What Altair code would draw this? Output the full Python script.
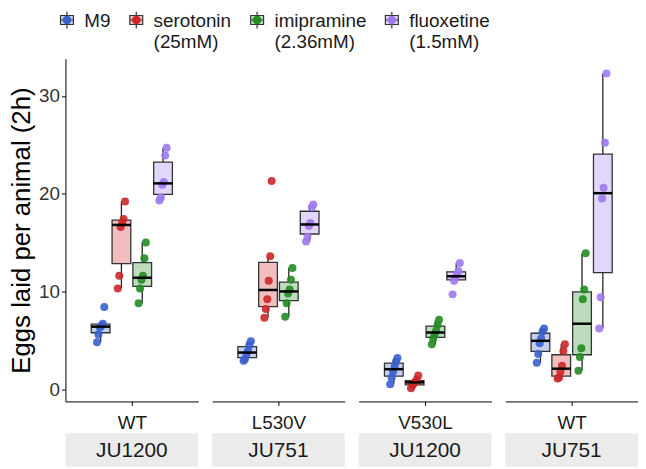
import altair as alt
import pandas as pd

# ---------------- data ----------------
drugs = ["M9", "serotonin (25mM)", "imipramine (2.36mM)", "fluoxetine (1.5mM)"]
colors = ["#3A5FCD", "#CD2626", "#228B22", "#9F79EE"]
box_fills = ["#C4CFF0", "#F0BEBE", "#BDDCBD", "#E2D7FA"]
genotypes = ["WT", "L530V", "V530L", "WT"]
strains = ["JU1200", "JU751", "JU1200", "JU751"]

# eggs laid per animal (2h), one list per panel (left to right)
m9 = [
    [8.4, 6.7, 6.5, 6.3, 5.6, 4.8],
    [4.9, 4.5, 3.9, 3.6, 3.1, 2.9],
    [3.2, 2.8, 2.3, 1.8, 1.2, 0.5],
    [6.2, 5.9, 5.2, 4.7, 3.6, 2.7],
]
serotonin = [
    [19.2, 17.4, 17.0, 16.6, 11.6, 10.3],
    [21.3, 13.6, 11.1, 9.2, 8.2, 7.3],
    [1.4, 0.9, 0.8, 0.6, 0.4, 0.1],
    [4.6, 3.9, 2.4, 1.8, 1.2, 1.1],
]
imipramine = [
    [15.0, 13.4, 11.6, 11.2, 10.3, 8.8],
    [12.4, 11.2, 10.2, 9.8, 8.8, 7.4],
    [7.1, 6.6, 6.0, 5.6, 5.2, 4.6],
    [13.9, 10.2, 9.2, 4.2, 3.3, 1.9],
]
fluoxetine = [
    [24.7, 23.9, 21.2, 20.9, 19.6, 19.3],
    [18.9, 18.6, 17.0, 16.7, 15.6, 15.1],
    [12.9, 12.1, 11.7, 11.4, 11.1, 9.7],
    [32.3, 25.2, 20.6, 19.5, 9.4, 6.2],
]

series = [m9, serotonin, imipramine, fluoxetine]
rows = []
for di, (drug, s) in enumerate(zip(drugs, series)):
    for p in range(4):
        for v in s[p]:
            rows.append({"panel": p, "drug": drug, "di": di, "value": v})
df = pd.DataFrame(rows)
strip_df = pd.DataFrame({"panel": list(range(4)), "strain": strains})

# ---------------- styling ----------------
W, H = 134, 346
STRIP_GAP, STRIP_H = 32, 34
FONT = "Liberation Sans"
x_scale = alt.Scale(domain=[-1.69, 4.69], nice=False, zero=False)
y_scale = alt.Scale(domain=[-1.25, 33.8], nice=False, zero=False)

# legend key: small box with whiskers, raised so that it lines up with the
# first line of the two-line labels (labels use an alphabetic baseline)
BOX_PATH = "M-1,-1.75H1V-0.35H-1Z M0,-2.35V-1.75 M0,-0.35V0.25 M-1,-1.05H1"
DOT_PATH = "M-0.68,-1.05A0.68,0.68,0,1,1,0.68,-1.05A0.68,0.68,0,1,1,-0.68,-1.05Z"

LABEL_EXPR = "[split(datum.label, ' ')[0], split(datum.label, ' ')[1] || ' ']"
common_leg = dict(
    title=None, orient="none", legendX=-8, legendY=-42, direction="horizontal",
    columns=4, symbolSize=169, symbolStrokeWidth=1.2,
    labelExpr=LABEL_EXPR, labelFontSize=19, labelFont=FONT,
    labelOffset=8, columnPadding=16, padding=0, labelBaseline="alphabetic",
    labelLimit=300,
)
box_legend = alt.Legend(symbolType=BOX_PATH, symbolStrokeColor="#333333",
                        labelColor="#1A1A1A", **common_leg)
dot_legend = alt.Legend(symbolType=DOT_PATH, symbolStrokeColor="transparent",
                        labelOpacity=0, symbolOpacity=1, values=drugs, **common_leg)


def panel(p):
    xaxis = alt.Axis(values=[1.5], labelExpr=f"'{genotypes[p]}'", title=None,
                     grid=False, domainColor="black", tickColor="black",
                     tickSize=4, labelFontSize=19, labelColor="#1A1A1A",
                     labelPadding=8, labelFont=FONT)
    if p == 0:
        yaxis = alt.Axis(values=[0, 10, 20, 30], title="Eggs laid per animal (2h)",
                         grid=False, domainColor="black", tickColor="black",
                         tickSize=4, labelFontSize=19, labelColor="#333333",
                         labelFont=FONT, titleFont=FONT, titleFontSize=26,
                         titleFontWeight="normal", titleColor="black",
                         titlePadding=4, labelPadding=2)
    else:
        yaxis = None

    base = alt.Chart(df).transform_filter(alt.datum.panel == p)
    stats = (
        base.transform_joinaggregate(q1="q1(value)", q3="q3(value)",
                                     med="median(value)", groupby=["drug"])
        .transform_calculate(lof="datum.q1 - 1.5*(datum.q3 - datum.q1)",
                             hif="datum.q3 + 1.5*(datum.q3 - datum.q1)")
        .transform_calculate(vlo="datum.value >= datum.lof ? datum.value : null",
                             vhi="datum.value <= datum.hif ? datum.value : null")
        .transform_aggregate(q1="min(q1)", q3="min(q3)", med="min(med)",
                             lo="min(vlo)", hi="max(vhi)", groupby=["drug", "di"])
        .transform_calculate(xl="datum.di - 0.45", xr="datum.di + 0.45")
    )

    whisk = stats.mark_rule(color="#222222", strokeWidth=1.3).encode(
        x=alt.X("di:Q", scale=x_scale, axis=xaxis),
        y=alt.Y("lo:Q", scale=y_scale, axis=yaxis),
        y2="hi:Q",
    )
    boxes = stats.mark_rect(stroke="#333333", strokeWidth=1.3).encode(
        x=alt.X("xl:Q", scale=x_scale, axis=xaxis),
        x2="xr:Q",
        y=alt.Y("q1:Q", scale=y_scale, axis=yaxis),
        y2="q3:Q",
        color=alt.Color("drug:N", scale=alt.Scale(domain=drugs, range=box_fills),
                        legend=box_legend),
    )
    pts = (
        base.transform_window(idx="row_number()", groupby=["drug"])
        .transform_calculate(xj="datum.di + ((datum.idx*5)%6 - 2.5)*0.07")
        .mark_circle(size=65, opacity=0.9)
        .encode(
            x=alt.X("xj:Q", scale=x_scale, axis=xaxis),
            y=alt.Y("value:Q", scale=y_scale, axis=yaxis),
            fill=alt.Fill("drug:N",
                          scale=alt.Scale(domain=drugs + ["-"], range=colors + ["#999999"]),
                          legend=dot_legend),
        )
    )
    med = stats.mark_rule(color="black", strokeWidth=2.5).encode(
        x=alt.X("xl:Q", scale=x_scale, axis=xaxis),
        x2="xr:Q",
        y=alt.Y("med:Q", scale=y_scale, axis=yaxis),
    )

    # facet strip below the panel (grey box with the strain name)
    sbase = alt.Chart(strip_df).transform_filter(alt.datum.panel == p)
    srect = sbase.mark_rect(color="#EBEBEB").encode(
        x=alt.value(0), x2=alt.value("width"),
        y=alt.value(H + STRIP_GAP), y2=alt.value(H + STRIP_GAP + STRIP_H))
    stext = sbase.mark_text(fontSize=21, color="#1A1A1A", font=FONT,
                            baseline="middle").encode(
        text="strain:N", x=alt.value(W / 2),
        y=alt.value(H + STRIP_GAP + STRIP_H / 2 + 1))

    return (
        alt.layer(whisk, boxes, pts, med, srect, stext)
        .properties(width=W, height=H,
                    view=alt.ViewBackground(stroke="transparent", strokeWidth=0))
    )


chart = (
    alt.hconcat(*[panel(p) for p in range(4)], spacing=14, bounds="flush")
    .resolve_scale(x="independent", y="shared", color="shared", fill="shared")
    .resolve_axis(x="independent", y="independent")
    .properties(padding={"left": 0, "top": 7, "right": 0, "bottom": 0})
    .configure_view(stroke="transparent", strokeWidth=0)
    .configure_axis(grid=False)
    .configure(font=FONT)
)

chart.save("out.html", embed_options={"renderer": "svg", "actions": False})
